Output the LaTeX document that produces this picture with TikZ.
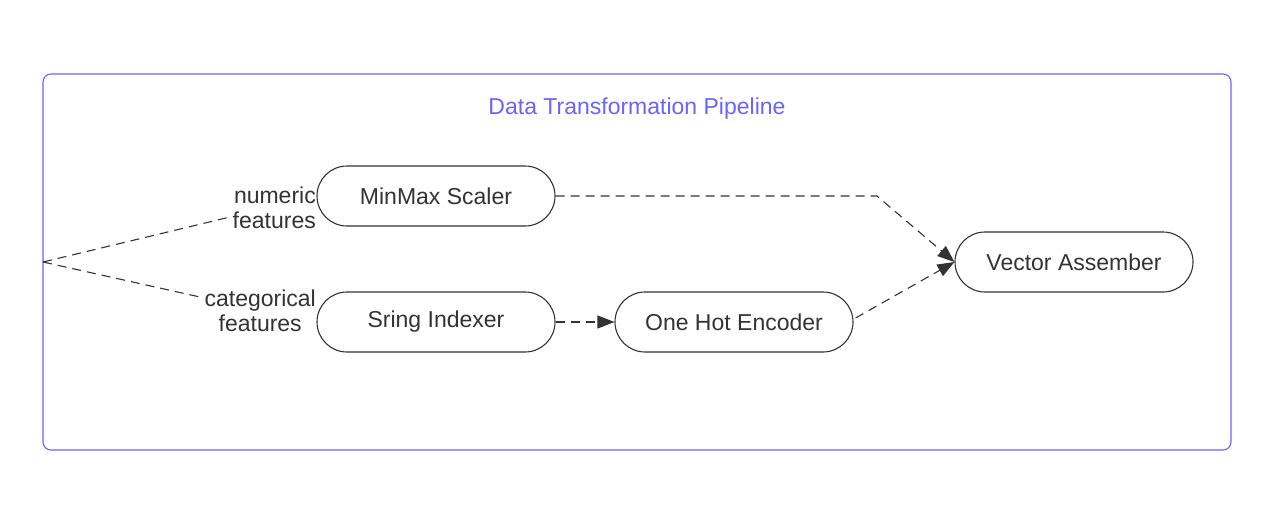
\documentclass[tikz,border=0pt]{standalone}
\usepackage{fontspec}
\setmainfont{Liberation Sans}
\usetikzlibrary{arrows.meta}
\definecolor{ink}{HTML}{333333}
\definecolor{frame}{HTML}{6B63FF}
\tikzset{
  stage/.style={draw=ink, line width=1.1pt, rounded corners=30pt, minimum width=238pt, minimum height=60pt, inner sep=0pt, font=\fontsize{23}{27}\selectfont, text=ink},
  flow/.style={draw=ink, line width=1.1pt, dash pattern=on 9pt off 6pt},
  arr/.style={flow, -{Triangle[length=17pt,width=13pt]}},
  lbl/.style={font=\fontsize{23}{25}\selectfont, text=ink, inner sep=1pt, align=right}
}
\begin{document}
\begin{tikzpicture}[x=1pt,y=-1pt]
\useasboundingbox (0,0) rectangle (1277,509);
\draw[frame, line width=1.1pt, rounded corners=8pt] (43,74) rectangle (1231,450);
\node[font=\fontsize{23}{27}\selectfont, text=frame] (title) at (637,109) {Data Transformation Pipeline};
\node[stage] (mm) at (436,196) {\raisebox{-1pt}{MinMax Scaler}};
\node[stage] (si) at (436,322) {\raisebox{-1pt}{Sring Indexer}};
\node[stage] (oh) at (734,322) {\raisebox{-1pt}{One Hot Encoder}};
\node[stage] (va) at (1074,262) {\raisebox{-1pt}{Vector Assember}};
\coordinate (src) at (43,262);
\node[lbl, anchor=east] (nf) at (317,208) {numeric\\features};
\node[lbl, align=center, anchor=east] (cf) at (317,311) {categorical\\features};
\coordinate (nfin) at (230,217);
\coordinate (cfin) at (200,297);
\draw[flow] (src) -- (nfin);
\draw[flow] (src) -- (cfin);
\coordinate (bend) at (877,196);
\draw[arr] (mm.east) -- (bend) -- (va.west);
\draw[arr] (si.east) -- (oh.west);
\draw[arr] (oh.east) ++(2,-4) coordinate (ohs) (ohs) -- (va.west);
\end{tikzpicture}
\end{document}
